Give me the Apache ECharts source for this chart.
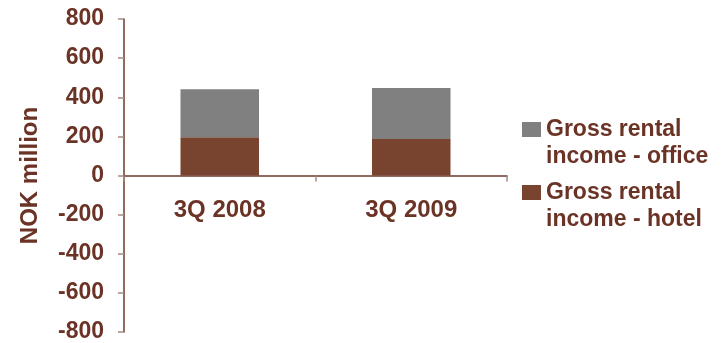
<!DOCTYPE html>
<html>
<head>
<meta charset="utf-8">
<style>
  html, body { margin: 0; padding: 0; background: #ffffff; }
  #chart { width: 724px; height: 343px; }
</style>
<script src="https://cdn.jsdelivr.net/npm/echarts@6/dist/echarts.min.js"></script>
</head>
<body>
<div id="chart"></div>
<script>
// Quarterly gross rental income, NOK million
const categories = ['3Q 2008', '3Q 2009'];
const hotelIncome = [196, 186];
const officeIncome = [245, 261];
const seriesNames = ['Gross rental\nincome - office', 'Gross rental\nincome - hotel'];
const yTicks = { min: -800, max: 800, interval: 200 };

const textColor = '#6b3325';
const axisColor = '#6e3a2b';
const tickColor = '#a28a82';
const font = 'Liberation Sans, Arial, sans-serif';

// plot area edges (px)
const gridTop = 19, gridBottom = 11, chartHeight = 343;
// the category axis sits on the zero line, halfway down the symmetric value range
const zeroOffset = -((chartHeight - gridTop - gridBottom) / 2);

// legend swatch: a square placed beside the first line of a two-line label
const swatchIcon = 'path://M0,0H19V15H0Z M0,42L0,42';

const chart = echarts.init(document.getElementById('chart'), null, { renderer: 'canvas' });

chart.setOption({
  animation: false,
  textStyle: { fontFamily: font },
  grid: {
    left: 124, right: 217, top: gridTop, bottom: gridBottom,
    containLabel: false, outerBoundsMode: 'none'
  },
  legend: {
    orient: 'vertical',
    left: 522,
    top: 116,
    padding: 0,
    itemWidth: 19,
    itemHeight: 42,
    itemGap: 9,
    icon: swatchIcon,
    data: [seriesNames[0], seriesNames[1]],
    textStyle: {
      color: textColor,
      fontSize: 23,
      fontWeight: 'bold',
      fontFamily: font,
      lineHeight: 27
    }
  },
  xAxis: {
    type: 'category',
    data: categories,
    position: 'bottom',
    offset: zeroOffset,
    axisLine: { onZero: false, lineStyle: { color: axisColor, width: 1.5 } },
    axisTick: { show: true, length: 6, lineStyle: { color: tickColor, width: 1.5 } },
    axisLabel: { color: textColor, fontSize: 24, fontWeight: 'bold', margin: 23, fontFamily: font },
    splitLine: { show: false }
  },
  yAxis: {
    type: 'value',
    min: yTicks.min,
    max: yTicks.max,
    interval: yTicks.interval,
    name: 'NOK million',
    nameLocation: 'middle',
    nameRotate: 90,
    nameGap: 82,
    nameTextStyle: { color: textColor, fontSize: 24, fontWeight: 'bold', fontFamily: font },
    axisLine: { show: true, lineStyle: { color: axisColor, width: 1.5 } },
    axisTick: { show: true, length: 6, lineStyle: { color: tickColor, width: 1.5 } },
    axisLabel: { color: textColor, fontSize: 23, fontWeight: 'bold', margin: 20, fontFamily: font },
    splitLine: { show: false }
  },
  series: [
    {
      name: seriesNames[1],
      type: 'bar',
      stack: 'income',
      data: hotelIncome,
      barWidth: '41%',
      itemStyle: { color: '#78432f' }
    },
    {
      name: seriesNames[0],
      type: 'bar',
      stack: 'income',
      data: officeIncome,
      barWidth: '41%',
      itemStyle: { color: '#808080' }
    }
  ]
});
</script>
</body>
</html>
